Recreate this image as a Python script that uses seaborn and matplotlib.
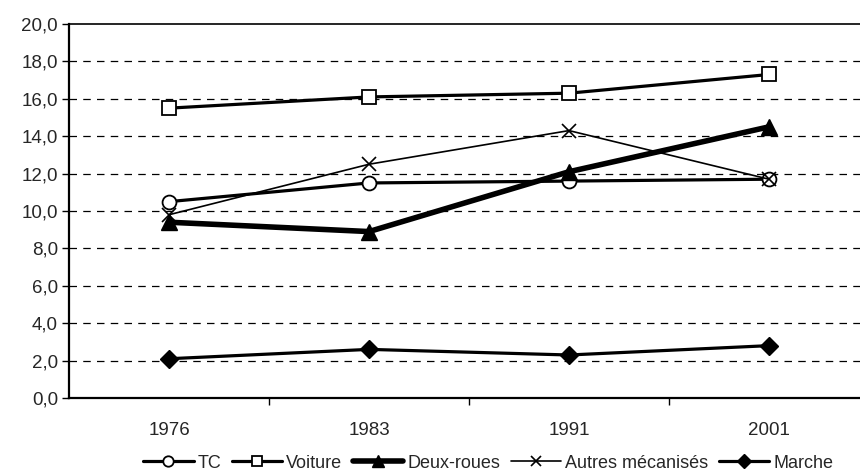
import matplotlib
matplotlib.use("Agg")
import matplotlib.pyplot as plt
import seaborn as sns
import pandas as pd
from matplotlib.ticker import FixedLocator

# Survey years and average values per transport mode
years = ["1976", "1983", "1991", "2001"]
tc = [10.5, 11.5, 11.6, 11.7]
voiture = [15.5, 16.1, 16.3, 17.3]
deux_roues = [9.4, 8.9, 12.1, 14.5]
autres = [9.8, 12.5, 14.3, 11.7]
marche = [2.1, 2.6, 2.3, 2.8]

series_names = ["TC", "Voiture", "Deux-roues", "Autres mécanisés", "Marche"]
series_values = [tc, voiture, deux_roues, autres, marche]

y_ticks = [0, 2, 4, 6, 8, 10, 12, 14, 16, 18, 20]

sns.set_theme(style="white")
plt.rcParams["font.family"] = ["Liberation Sans", "DejaVu Sans"]

rows = []
for name, vals in zip(series_names, series_values):
    for i, v in enumerate(vals):
        rows.append({"serie": name, "pos": i, "valeur": v})
df = pd.DataFrame(rows)

styles = {
    "TC": dict(marker="o", lw=2.3, ms=10, mfc="white", mec="black", mew=1.3),
    "Voiture": dict(marker="s", lw=2.3, ms=10.5, mfc="white", mec="black", mew=1.3),
    "Deux-roues": dict(marker="^", lw=4.0, ms=11, mfc="black", mec="black", mew=1.0),
    "Autres mécanisés": dict(marker="x", lw=1.2, ms=10, mfc="black", mec="black", mew=1.2),
    "Marche": dict(marker="D", lw=2.3, ms=9, mfc="black", mec="black", mew=1.0),
}

fig = plt.figure(figsize=(8.6, 4.73), dpi=100)
ax = fig.add_axes([69 / 860, 75 / 473, 800 / 860, 374 / 473])

for name in series_names:
    st = styles[name]
    sub = df[df["serie"] == name]
    sns.lineplot(
        data=sub, x="pos", y="valeur", ax=ax, color="black",
        linewidth=st["lw"], marker=st["marker"], markersize=st["ms"],
        markerfacecolor=st["mfc"], markeredgecolor=st["mec"],
        markeredgewidth=st["mew"], label=name, legend=False,
    )

ax.set_xlim(-0.5, 3.5)
ax.set_ylim(0, 20)
ax.set_yticks(y_ticks)
ax.set_yticklabels([f"{v:.1f}".replace(".", ",") for v in y_ticks], fontsize=13.5)
ax.set_xticks(range(len(years)))
ax.set_xticklabels(years, fontsize=13.5)
ax.xaxis.set_minor_locator(FixedLocator([0.5, 1.5, 2.5]))
ax.tick_params(axis="x", which="major", length=0, pad=17)
ax.tick_params(axis="x", which="minor", length=5, width=1, color="black", direction="out", bottom=True)
ax.tick_params(axis="y", which="major", length=5, width=1, color="black", direction="out", left=True, pad=3)
ax.set_xlabel("")
ax.set_ylabel("")

for y in y_ticks[1:-1]:
    ax.axhline(y, color="black", lw=0.9, ls=(0, (6, 5)), zorder=0.5)

for side in ["left", "bottom", "top"]:
    ax.spines[side].set_visible(True)
    ax.spines[side].set_color("black")
ax.spines["left"].set_linewidth(1.6)
ax.spines["bottom"].set_linewidth(1.6)
ax.spines["top"].set_linewidth(1.2)
ax.spines["right"].set_visible(False)

handles, labels = ax.get_legend_handles_labels()
fig.legend(
    handles, labels, loc="center", bbox_to_anchor=(488 / 860, 10 / 473),
    ncol=5, frameon=False, fontsize=13, handlelength=2.8,
    handletextpad=0.2, columnspacing=0.6, markerscale=0.75,
)

fig.savefig("out.png", dpi=100)
